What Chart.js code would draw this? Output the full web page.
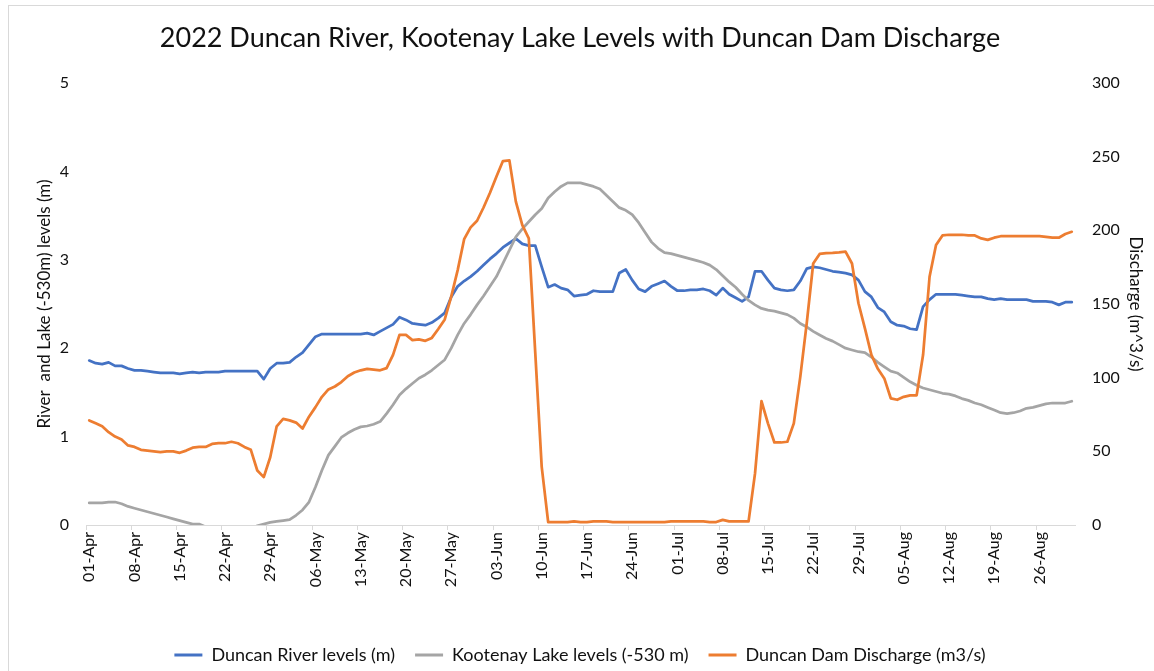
<!DOCTYPE html>
<html>
<head>
<meta charset="utf-8">
<script src="https://cdn.jsdelivr.net/npm/chart.js@4.4.1/dist/chart.umd.min.js"></script>
<style>
  html, body { margin: 0; padding: 0; background: #fff; overflow: hidden; }
  #wrap { position: relative; width: 1154px; height: 671px; }
  #frame { position: absolute; left: 8px; top: 5px; width: 1200px; height: 720px;
           border: 1px solid #d9d9d9; box-sizing: border-box; }
  #c { position: absolute; left: 0; top: 0; }
</style>
</head>
<body>
<div id="wrap">
  <div id="frame"></div>
  <canvas id="c" width="1154" height="671"></canvas>
</div>
<script>
// Daily categories, 1 April to 31 August 2022
const months = [['Apr', 30], ['May', 31], ['Jun', 30], ['Jul', 31], ['Aug', 31]];
const days = [];
months.forEach(([m, n]) => {
  for (let d = 1; d <= n; d++) days.push(String(d).padStart(2, '0') + '-' + m);
});

// Duncan River level (m)
const riverLevels = [
  1.86, 1.83, 1.82, 1.84, 1.80, 1.80, 1.77, 1.75, 1.75, 1.74,
  1.73, 1.72, 1.72, 1.72, 1.71, 1.72, 1.73, 1.72, 1.73, 1.73,
  1.73, 1.74, 1.74, 1.74, 1.74, 1.74, 1.74, 1.65, 1.77, 1.83,
  1.83, 1.84, 1.90, 1.95, 2.04, 2.13, 2.16, 2.16, 2.16, 2.16,
  2.16, 2.16, 2.16, 2.17, 2.15, 2.19, 2.23, 2.27, 2.35, 2.32,
  2.28, 2.27, 2.26, 2.29, 2.34, 2.40, 2.58, 2.70, 2.76, 2.81,
  2.87, 2.94, 3.01, 3.07, 3.14, 3.19, 3.24, 3.18, 3.16, 3.16,
  2.92, 2.69, 2.72, 2.68, 2.66, 2.59, 2.60, 2.61, 2.65, 2.64,
  2.64, 2.64, 2.85, 2.89, 2.77, 2.67, 2.64, 2.70, 2.73, 2.76,
  2.70, 2.65, 2.65, 2.66, 2.66, 2.67, 2.65, 2.60, 2.68, 2.61,
  2.57, 2.53, 2.58, 2.87, 2.87, 2.77, 2.68, 2.66, 2.65, 2.66,
  2.76, 2.90, 2.92, 2.91, 2.89, 2.87, 2.86, 2.85, 2.83, 2.77,
  2.64, 2.58, 2.46, 2.41, 2.30, 2.26, 2.25, 2.22, 2.21, 2.47,
  2.55, 2.61, 2.61, 2.61, 2.61, 2.60, 2.59, 2.58, 2.58, 2.56,
  2.55, 2.56, 2.55, 2.55, 2.55, 2.55, 2.53, 2.53, 2.53, 2.52,
  2.49, 2.52, 2.52
];

// Kootenay Lake level minus 530 m
const lakeLevels = [
  0.25, 0.25, 0.25, 0.26, 0.26, 0.24, 0.21, 0.19, 0.17, 0.15,
  0.13, 0.11, 0.09, 0.07, 0.05, 0.03, 0.01, 0.01, -0.02, -0.05,
  -0.08, -0.10, -0.11, -0.10, -0.07, -0.04, -0.01, 0.01, 0.03, 0.04,
  0.05, 0.06, 0.11, 0.17, 0.26, 0.43, 0.62, 0.79, 0.89, 0.99,
  1.04, 1.08, 1.11, 1.12, 1.14, 1.17, 1.26, 1.36, 1.47, 1.54,
  1.60, 1.66, 1.70, 1.75, 1.81, 1.87, 2.00, 2.15, 2.28, 2.38,
  2.49, 2.59, 2.70, 2.81, 2.96, 3.11, 3.26, 3.35, 3.43, 3.51,
  3.58, 3.70, 3.77, 3.83, 3.87, 3.87, 3.87, 3.85, 3.83, 3.80,
  3.73, 3.66, 3.59, 3.56, 3.51, 3.42, 3.31, 3.20, 3.13, 3.08,
  3.07, 3.05, 3.03, 3.01, 2.99, 2.97, 2.94, 2.89, 2.82, 2.75,
  2.69, 2.61, 2.54, 2.49, 2.45, 2.43, 2.42, 2.40, 2.38, 2.34,
  2.28, 2.24, 2.19, 2.15, 2.11, 2.08, 2.04, 2.00, 1.98, 1.96,
  1.95, 1.90, 1.84, 1.79, 1.74, 1.72, 1.67, 1.62, 1.58, 1.55,
  1.53, 1.51, 1.49, 1.48, 1.46, 1.43, 1.41, 1.38, 1.36, 1.33,
  1.30, 1.27, 1.26, 1.27, 1.29, 1.32, 1.33, 1.35, 1.37, 1.38,
  1.38, 1.38, 1.40
];

// Duncan Dam discharge (m3/s)
const damDischarge = [
  71, 69, 67, 63, 60, 58, 54, 53, 51, 50.5,
  50, 49.5, 50, 50, 49, 50.5, 52.5, 53, 53, 55,
  55.5, 55.5, 56.5, 55.5, 53, 51, 37, 32.5, 46, 67,
  72, 71, 69.5, 65.5, 73.5, 80, 87, 92, 94, 97,
  101, 103.5, 105, 106, 105.5, 105, 106.5, 115.5, 129, 129,
  125.5, 126, 125, 127, 133, 139.5, 155, 173, 194, 202,
  206.5, 215.5, 225.5, 236.5, 247, 247.5, 219.5, 203.5, 194.5, 117,
  39.5, 2, 2, 2, 2, 2.5, 2, 2, 2.5, 2.5,
  2.5, 2, 2, 2, 2, 2, 2, 2, 2, 2,
  2.5, 2.5, 2.5, 2.5, 2.5, 2.5, 2, 2, 3.5, 2.5,
  2.5, 2.5, 2.5, 35, 84, 69, 56, 56, 56.5, 69,
  100.5, 137, 177.5, 184, 184.5, 184.7, 185, 185.5, 177.5, 150.5,
  133.5, 115.5, 106, 99.5, 86, 85, 87, 88, 88, 115.5,
  168.5, 190, 196.5, 197, 197, 197, 196.5, 196.5, 194.5, 193.5,
  195, 196, 196, 196, 196, 196, 196, 196, 195.5, 195,
  195, 197.5, 199
];

const levelTicks = { min: 0, max: 5, step: 1 };
const dischargeTicks = { min: 0, max: 300, step: 50 };

const FONT = 'Lato, "Open Sans", sans-serif';
const INK = '#111111';
const TICK_EVERY = 7;

const chart = new Chart(document.getElementById('c'), {
  type: 'line',
  data: {
    labels: days,
    datasets: [
      { label: 'Duncan River levels (m)', data: riverLevels, yAxisID: 'y',
        borderColor: '#4472C4', backgroundColor: '#4472C4', order: 2 },
      { label: 'Kootenay Lake levels (-530 m)', data: lakeLevels, yAxisID: 'y',
        borderColor: '#A5A5A5', backgroundColor: '#A5A5A5', order: 1 },
      { label: 'Duncan Dam Discharge (m3/s)', data: damDischarge, yAxisID: 'y2',
        borderColor: '#ED7D31', backgroundColor: '#ED7D31', order: 0 }
    ]
  },
  options: {
    responsive: false,
    animation: false,
    devicePixelRatio: 1,
    layout: { padding: { left: 6, right: 0, top: 0, bottom: -3 } },
    elements: {
      point: { radius: 0, hoverRadius: 0 },
      line: { borderWidth: 2.75, tension: 0, borderJoinStyle: 'round', borderCapStyle: 'round', fill: false }
    },
    plugins: {
      tooltip: { enabled: false },
      title: {
        display: true,
        text: '2022 Duncan River, Kootenay Lake Levels with Duncan Dam Discharge',
        color: INK,
        font: { family: FONT, size: 27, weight: 'normal', lineHeight: 1.2 },
        padding: { top: 21.8, bottom: 28.8 }
      },
      legend: {
        position: 'bottom',
        labels: {
          color: INK,
          font: { family: FONT, size: 18 },
          boxWidth: 28,
          boxHeight: 3,
          padding: 20,
          sort: (a, b) => a.datasetIndex - b.datasetIndex,
          generateLabels: (ch) => Chart.defaults.plugins.legend.labels.generateLabels(ch)
            .map(item => Object.assign(item, { lineWidth: 0 }))
        }
      }
    },
    scales: {
      x: {
        type: 'category',
        offset: true,
        grid: {
          display: true,
          offset: true,
          drawOnChartArea: false,
          drawTicks: true,
          tickLength: 5,
          color: (ctx) => (ctx.index % TICK_EVERY === 0 ? '#d9d9d9' : 'rgba(0,0,0,0)')
        },
        border: { display: true, color: '#d9d9d9', width: 1 },
        ticks: {
          autoSkip: false,
          minRotation: 90,
          maxRotation: 90,
          padding: 2,
          color: INK,
          font: { family: FONT, size: 16 },
          callback: function (value, index) {
            return index % TICK_EVERY === 0 ? this.getLabelForValue(value) : '';
          }
        },
        afterFit: (s) => { s.height = 101; }
      },
      y: {
        position: 'left',
        min: levelTicks.min,
        max: levelTicks.max,
        grid: { display: false, drawTicks: false },
        border: { display: false },
        ticks: { stepSize: levelTicks.step, padding: 17, color: INK, font: { family: FONT, size: 16 } },
        title: {
          display: true,
          text: 'River  and Lake (-530m) levels (m)',
          color: INK,
          font: { family: FONT, size: 17, lineHeight: 1.2 },
          padding: { top: 28.8, bottom: 0 }
        },
        afterFit: (s) => { s.width = 80; }
      },
      y2: {
        position: 'right',
        min: dischargeTicks.min,
        max: dischargeTicks.max,
        grid: { display: false, drawTicks: false },
        border: { display: false },
        ticks: { stepSize: dischargeTicks.step, padding: 17, color: INK, font: { family: FONT, size: 16 } },
        title: {
          display: true,
          text: 'Discharge (m^3/s)',
          color: INK,
          font: { family: FONT, size: 17, lineHeight: 1.2 },
          padding: { top: 8.8, bottom: 0 }
        },
        afterFit: (s) => { s.width = 79; }
      }
    }
  }
});
</script>
</body>
</html>
